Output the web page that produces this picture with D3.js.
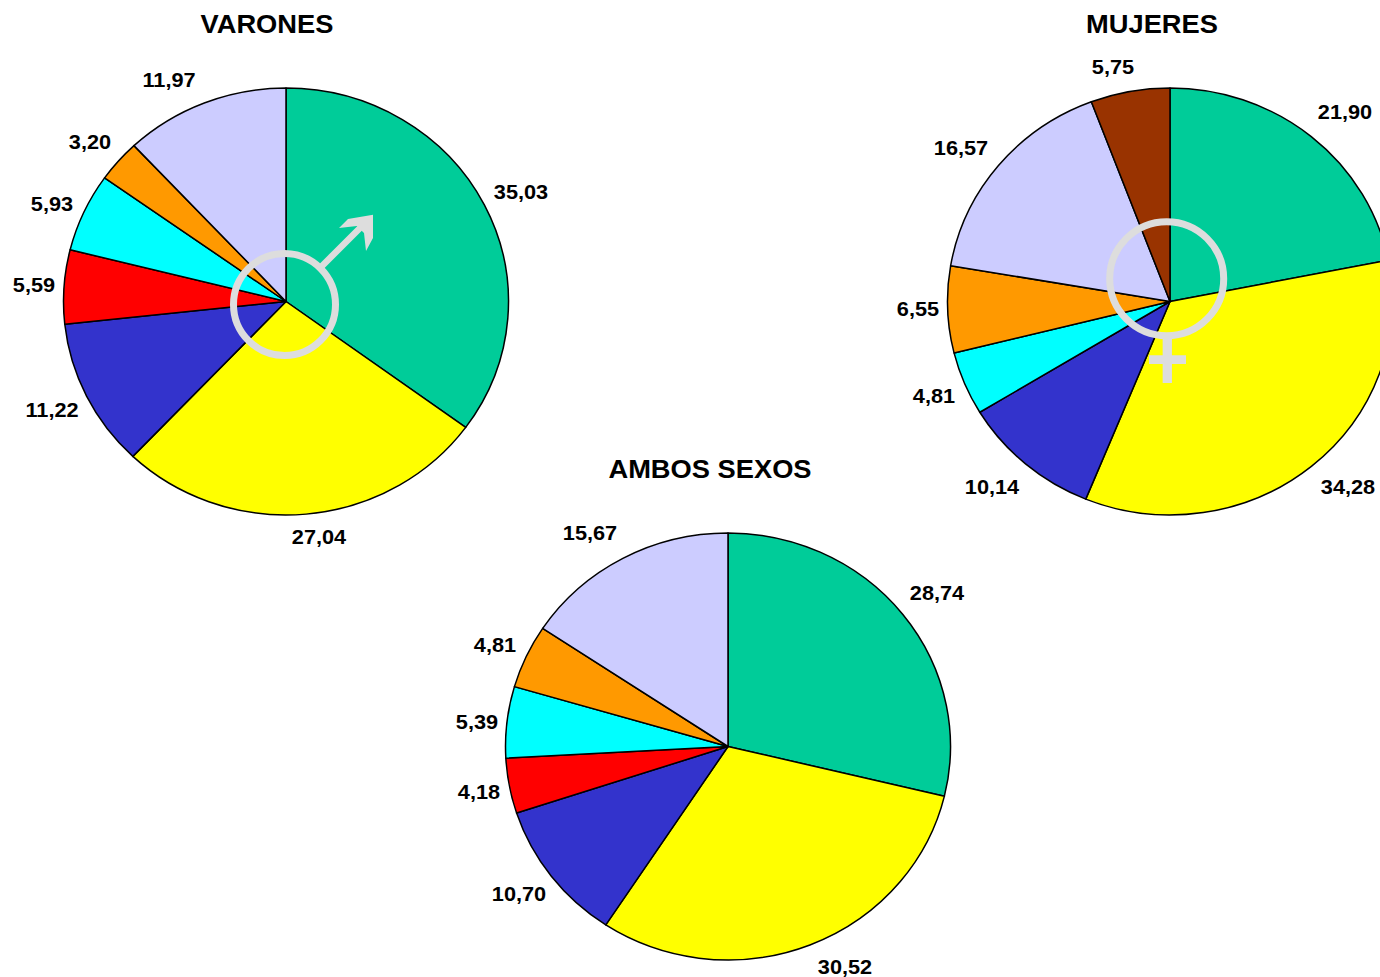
<!DOCTYPE html>
<html><head><meta charset="utf-8">
<script src="https://cdnjs.cloudflare.com/ajax/libs/d3/7.8.5/d3.min.js"></script>
<style>html,body{margin:0;padding:0;background:#fff;overflow:hidden}text{font-family:"Liberation Sans",Arial,sans-serif;font-weight:bold;fill:#000}</style>
</head><body><svg id="c" width="1380" height="977"></svg>
<script>
const colors = {verde:"#00cc99",amarillo:"#ffff00",azul:"#3333cc",rojo:"#ff0000",cian:"#00ffff",naranja:"#ff9900",lila:"#ccccff",marron:"#993300"};
const varonesCats = ["verde","amarillo","azul","rojo","cian","naranja","lila"];
const varonesVals = [35.03,27.04,11.22,5.59,5.93,3.20,11.97];
const varonesLabels = ["35,03","27,04","11,22","5,59","5,93","3,20","11,97"];
const varonesLabelPos = [[521,192],[319,537],[52,410],[34,285],[52,204],[90,142],[169,80]];
const mujeresCats = ["verde","amarillo","azul","cian","naranja","lila","marron"];
const mujeresVals = [21.90,34.28,10.14,4.81,6.55,16.57,5.75];
const mujeresLabels = ["21,90","34,28","10,14","4,81","6,55","16,57","5,75"];
const mujeresLabelPos = [[1345,112],[1348,487],[992,487],[934,396],[918,309],[961,148],[1113,67]];
const ambosCats = ["verde","amarillo","azul","rojo","cian","naranja","lila"];
const ambosVals = [28.74,30.52,10.70,4.18,5.39,4.81,15.67];
const ambosLabels = ["28,74","30,52","10,70","4,18","5,39","4,81","15,67"];
const ambosLabelPos = [[937,593],[845,967],[519,894],[479,792],[477,722],[495,645],[590,533]];

const svg = d3.select("#c");
const RX = 222.5, RY = 213.5;
function stretched(sel,x,y,k){ return sel.attr("transform",`translate(${x},${y}) scale(${k},1)`).attr("text-anchor","middle"); }
function pie(title,tx,ty,cx,cy,cats,vals,labels,lp){
  const arcs = d3.pie().sort(null)(vals);
  const arc = d3.arc().innerRadius(0).outerRadius(RX);
  const g = svg.append("g").attr("transform",`translate(${cx},${cy}) scale(1,${RY/RX})`);
  g.selectAll("path").data(arcs).join("path").attr("d",arc)
    .attr("fill",(d,i)=>colors[cats[i]]).attr("stroke","#000").attr("stroke-width",1.5)
    .attr("stroke-linejoin","round").attr("vector-effect","non-scaling-stroke");
  stretched(svg.append("text"),tx,ty,1.05).attr("font-size",26).text(title);
  labels.forEach((l,i)=>stretched(svg.append("text"),lp[i][0],lp[i][1]+7,1.06).attr("font-size",20.5).text(l));
}
pie("VARONES",267,33,286,301.5,varonesCats,varonesVals,varonesLabels,varonesLabelPos);
pie("MUJERES",1152,33,1170,301.5,mujeresCats,mujeresVals,mujeresLabels,mujeresLabelPos);
pie("AMBOS SEXOS",710,478,728,746.5,ambosCats,ambosVals,ambosLabels,ambosLabelPos);

const sym = svg.append("g").attr("fill","none").attr("stroke","#dddddd");
sym.append("circle").attr("cx",284.5).attr("cy",304.5).attr("r",51).attr("stroke-width",7);
sym.append("line").attr("x1",321).attr("y1",267).attr("x2",364).attr("y2",224).attr("stroke-width",6.5);
svg.append("polygon").attr("points","373,214.7 348,219 339,228 357,226 364,233 366,251 373,238").attr("fill","#dddddd");
sym.append("circle").attr("cx",1166.7).attr("cy",278.7).attr("r",57).attr("stroke-width",7);
sym.append("line").attr("x1",1167.3).attr("y1",338).attr("x2",1167.3).attr("y2",383).attr("stroke-width",9.3);
sym.append("line").attr("x1",1149).attr("y1",359.7).attr("x2",1186).attr("y2",359.7).attr("stroke-width",8.7);
</script></body></html>
